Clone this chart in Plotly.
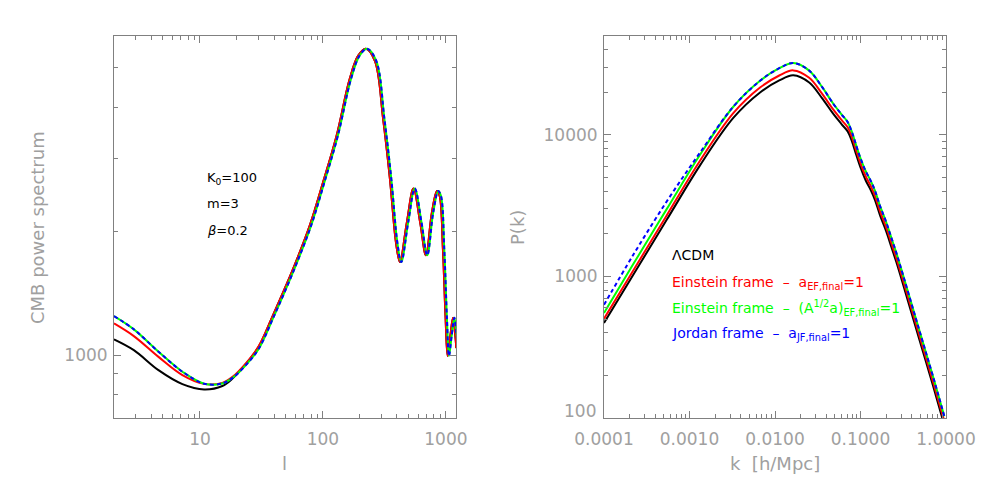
import math
import plotly.graph_objects as go

# ---------------- Left panel: CMB power spectrum ----------------
l_black = [2, 2.9, 4.6, 7.2, 10.8, 15.2, 18.4, 23.6, 30, 39, 57, 78, 100, 129, 165, 193, 223,
           265, 309, 351, 393, 423, 481, 545, 618, 688, 769, 846, 890, 946, 995, 1033, 1086,
           1143, 1194, 1215]
cmb_black = [1092, 1028, 919, 850, 825, 841, 877, 950, 1048, 1244, 1616, 2061, 2624, 3410, 4690,
             5340, 5560, 5190, 3742, 2676, 1875, 1683, 2100, 2540, 2100, 1748, 2220, 2506, 2437,
             1806, 1222, 995, 1112, 1232, 1112, 1040]
l_red = l_black
cmb_red = [1194, 1112, 990, 894, 851, 856, 885, 955, 1050, 1244, 1616, 2061, 2624, 3410, 4690,
           5340, 5560, 5190, 3742, 2676, 1875, 1683, 2100, 2540, 2100, 1748, 2220, 2506, 2437,
           1806, 1222, 995, 1112, 1232, 1112, 1040]
l_green = [2, 2.9, 4.6, 7.2, 10.8, 15.2, 18.4, 23.6, 30, 40, 58.4, 80, 102.5, 132, 169, 198, 228.5,
           271.5, 316.5, 360, 403, 433.5, 493, 558.5, 633.5, 705, 788, 867, 912, 970, 1020, 1059,
           1113, 1172, 1224, 1245]
cmb_green = [1244, 1155, 1019, 911, 852, 853, 880, 945, 1035, 1244, 1616, 2061, 2624, 3410, 4690,
             5340, 5560, 5190, 3742, 2676, 1875, 1683, 2100, 2540, 2100, 1748, 2220, 2506, 2437,
             1806, 1222, 995, 1112, 1232, 1112, 1040]
l_blue = l_green
cmb_blue = cmb_green

# ---------------- Right panel: matter power spectrum ----------------
k_vals = [0.0001, 0.000220, 0.000541, 0.001327, 0.003251, 0.006683, 0.01122, 0.01637, 0.02512,
          0.03548, 0.04786, 0.06026, 0.07079, 0.07943, 0.08913, 0.1, 0.1148, 0.1318, 0.1479,
          0.1698, 0.1995, 0.2291, 0.2630, 0.3162, 0.4169, 0.5433, 0.7096, 0.955]
pk_black = [469, 1028, 2512, 6095, 13183, 19953, 24266, 26363, 23442, 18197, 14125, 11885, 10593,
            9016, 7244, 5888, 4786, 4074, 3467, 2692, 2089, 1622, 1259, 871, 494, 288, 167, 89]
pk_red = [503, 1102, 2700, 6570, 14240, 21610, 26300, 28580, 25320, 19560, 15140, 12720, 11330,
          9630, 7740, 6290, 5110, 4350, 3700, 2870, 2230, 1730, 1343, 929, 527, 307, 178, 95]
pk_green = [552, 1223, 2990, 7250, 15820, 24140, 29600, 32220, 28480, 21840, 16670, 13910, 12340,
            10470, 8410, 6840, 5560, 4730, 4025, 3125, 2425, 1883, 1462, 1011, 574, 334, 194, 103]
pk_blue = [631, 1422, 3388, 7500, 15820, 24140, 29600, 32220, 28480, 21840, 16670, 13910, 12340,
           10470, 8410, 6840, 5560, 4730, 4025, 3125, 2425, 1883, 1462, 1011, 574, 334, 194, 103]

# tick definitions
left_x_ticks = [10, 100, 1000]
left_x_labels = ["10", "100", "1000"]
left_x_minor = [3, 4, 5, 6, 7, 8, 9, 20, 30, 40, 50, 60, 70, 80, 90,
                200, 300, 400, 500, 600, 700, 800, 900]
left_y_ticks = [1000]
left_y_labels = ["1000"]
left_y_minor = [800, 900, 2000, 3000, 4000, 5000]
right_x_ticks = [0.0001, 0.001, 0.01, 0.1, 1.0]
right_x_labels = ["0.0001", "0.0010", "0.0100", "0.1000", "1.0000"]
right_x_minor = [m * d for d in [0.0001, 0.001, 0.01, 0.1] for m in range(2, 10)]
right_y_ticks = [1000, 10000]
right_y_labels = ["1000", "10000"]
right_y_bottom_label = "100"
right_y_minor = [m * d for d in [100, 1000] for m in range(2, 10)] + [20000, 30000, 40000]

BLACK, RED, GREEN, BLUE = "#000000", "#ff0000", "#00ff00", "#0000ff"
W, H = 981, 491

fig = go.Figure()

def add(x, y, color, xa, ya, dash="solid"):
    fig.add_trace(go.Scatter(x=x, y=y, mode="lines", xaxis=xa, yaxis=ya,
                             line=dict(color=color, width=2, dash=dash, shape="spline", smoothing=1.0),
                             showlegend=False, hoverinfo="skip"))

add(l_black, cmb_black, BLACK, "x", "y")
add(l_red, cmb_red, RED, "x", "y")
add(l_green, cmb_green, GREEN, "x", "y")
add(l_blue, cmb_blue, BLUE, "x", "y", dash="4px,3px")

add(k_vals, pk_black, BLACK, "x2", "y2")
add(k_vals, pk_red, RED, "x2", "y2")
add(k_vals, pk_green, GREEN, "x2", "y2")
add(k_vals, pk_blue, BLUE, "x2", "y2", dash="4px,3px")

AXC = "#808080"
TXC = "#a0a0a0"
FONT = "DejaVu Sans"

def axis(rng, tv, tt, minor, domain, anchor, standoff):
    return dict(type="log", range=rng, domain=domain, anchor=anchor, automargin=False,
                tickmode="array", tickvals=tv, ticktext=tt,
                ticks="inside", ticklen=7, tickwidth=1, tickcolor=AXC,
                showline=True, linecolor=AXC, linewidth=1, mirror="allticks",
                showgrid=False, zeroline=False, ticklabelstandoff=standoff,
                tickfont=dict(family=FONT, size=17, color=TXC),
                minor=dict(tickmode="array", tickvals=minor, ticks="inside", ticklen=4,
                           tickcolor=AXC, tickwidth=1, showgrid=False))

ydom = [1 - 418 / H, 1 - 36 / H]
fig.update_layout(
    template="none",
    width=W, height=H, autosize=False,
    margin=dict(l=0, r=0, t=0, b=0, pad=0),
    paper_bgcolor="white", plot_bgcolor="white",
    xaxis=axis([math.log10(2), math.log10(1208)], left_x_ticks, left_x_labels, left_x_minor,
               [114 / W, 456 / W], "y", 6),
    yaxis=axis([math.log10(703), math.log10(5970)], left_y_ticks, left_y_labels, left_y_minor,
               ydom, "x", 2),
    xaxis2=axis([-4, 0], right_x_ticks, right_x_labels, right_x_minor,
                [604 / W, 946 / W], "y2", 6),
    yaxis2=axis([2, math.log10(50000)], right_y_ticks, right_y_labels, right_y_minor,
                ydom, "x2", 2),
)

def ann(text, px, py, size=17, color=TXC, xanchor="center", angle=0):
    fig.add_annotation(text=text, x=px / W, y=1 - py / H, xref="paper", yref="paper",
                       showarrow=False, xanchor=xanchor, yanchor="middle", textangle=angle,
                       font=dict(family=FONT, size=size, color=color))

# bottom y label of right panel (sits just above the x labels, as in the original)
ann(right_y_bottom_label, 598, 411, xanchor="right")

# axis titles
ann("CMB power spectrum", 37, 228, size=18, angle=-90)
ann("l", 284, 463, size=18)
ann("P(k)", 517, 228, size=18, angle=-90)
ann("k  [h/Mpc]", 775, 463, size=18)

# parameter labels
ann("K<sub>0</sub>=100", 205, 178, size=13, color=BLACK, xanchor="left")
ann("m=3", 205, 203, size=13, color=BLACK, xanchor="left")
ann("<i>β</i>=0.2", 205, 230, size=13, color=BLACK, xanchor="left")

# legend texts
ann("ΛCDM", 670, 255, size=14, color=BLACK, xanchor="left")
ann("Einstein frame  –  a<sub>EF,final</sub>=1", 670, 283, size=14, color=RED, xanchor="left")
ann("Einstein frame  –  (A<sup>1/2</sup>a)<sub>EF,final</sub>=1", 670, 308, size=14, color=GREEN, xanchor="left")
ann("Jordan frame  –  a<sub>JF,final</sub>=1", 670, 334, size=14, color=BLUE, xanchor="left")

fig.write_html("out.html", config={"displayModeBar": False},
               post_script="document.body.style.margin='0px';")
